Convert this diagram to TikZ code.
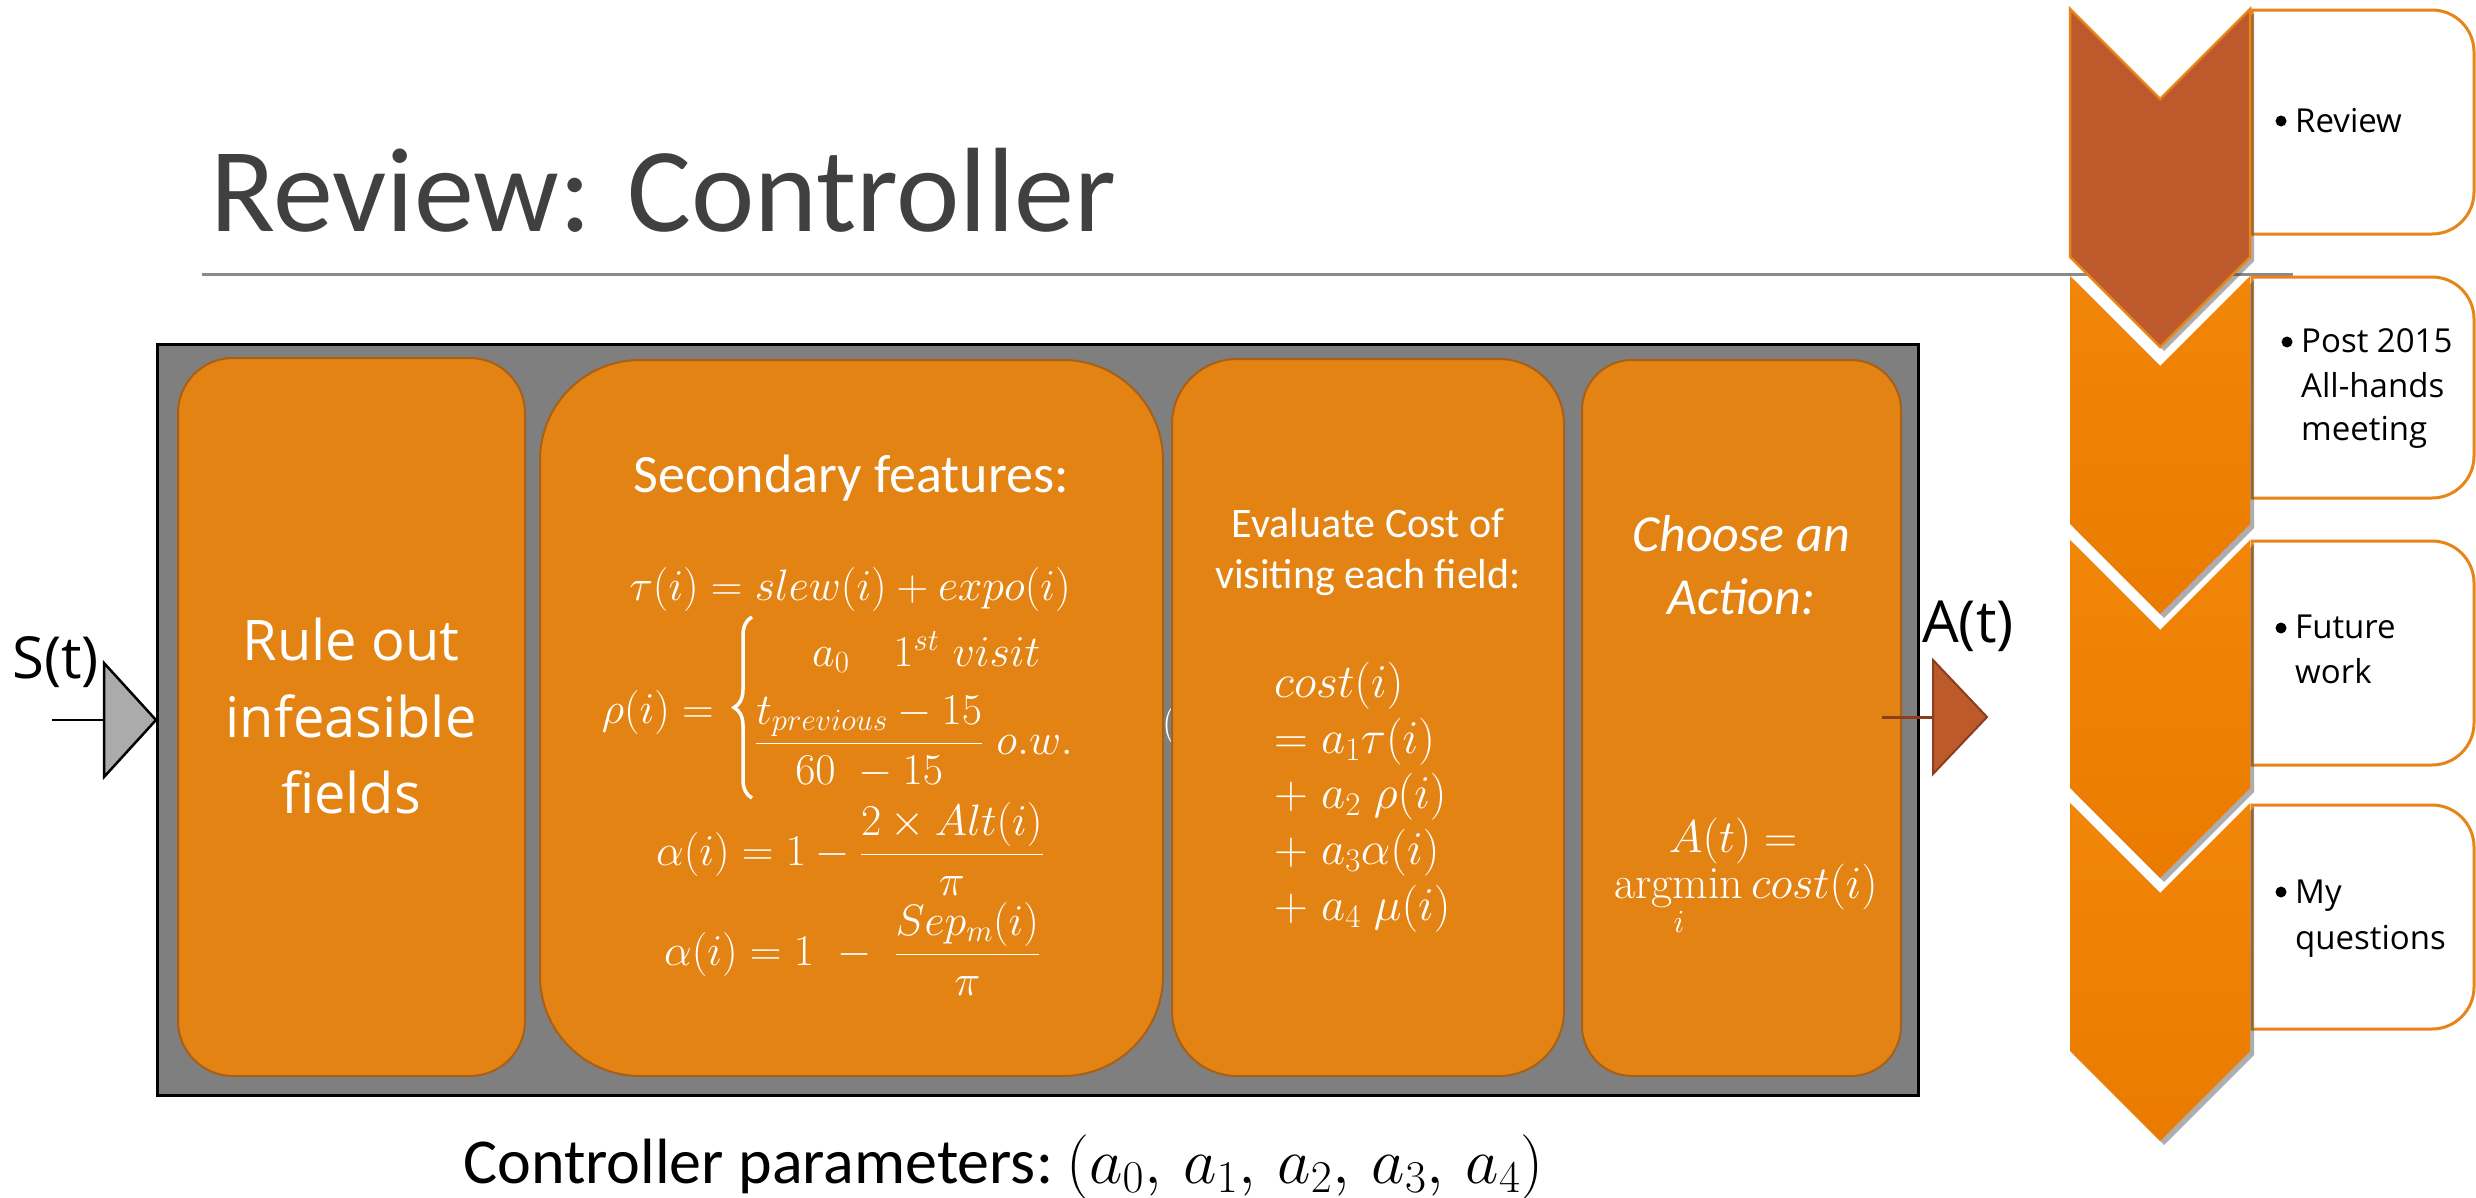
\RequirePackage{fix-cm}
\documentclass[tikz,border=0pt]{standalone}
\usepackage{amsmath}
\usepackage{fontspec}
\newfontfamily\carlito{Carlito}
\newfontfamily\osans{Open Sans}
\usetikzlibrary{shadows,decorations.pathreplacing}
\definecolor{obox}{HTML}{E38313}
\definecolor{oborder}{HTML}{A85F16}
\definecolor{gbox}{HTML}{7F7F7F}
\definecolor{rust}{HTML}{BC5A2C}
\definecolor{chevA}{HTML}{F28608}
\definecolor{chevB}{HTML}{EA7B00}
\definecolor{rborder}{HTML}{E8851A}
\definecolor{titlegray}{HTML}{404040}
\definecolor{linegray}{HTML}{8A8A8A}
\definecolor{trigray}{HTML}{ABABAB}
\definecolor{triout}{HTML}{8C3E1C}
\begin{document}
\begin{tikzpicture}[x=1pt,y=-1pt,
  obx/.style={draw=oborder, fill=obox, line width=2pt, inner sep=0pt, outer sep=0pt, anchor=north west},
  wtext/.style={text=white, inner sep=0pt, anchor=base},
  wtextl/.style={text=white, inner sep=0pt, anchor=base west},
  btext/.style={text=black, inner sep=0pt, anchor=base west, font=\osans\fontsize{33}{40}\selectfont},
  bdot/.style={circle, fill=black, inner sep=0pt, minimum size=11pt},
  chevshadow/.style={drop shadow={shadow xshift=4pt, shadow yshift=-4pt, opacity=0.4, fill=black!80}},
]
\useasboundingbox[fill=white] (0,0) rectangle (2476,1197);

% ---- title
\node[anchor=base west, inner sep=0pt, text=titlegray, font=\carlito\fontsize{120}{144}\selectfont] (title) at (210,231) {Review: Controller};
\coordinate (tl1) at (202,274);
\coordinate (tl2) at (2293,274);
\draw[linegray, line width=3pt] (tl1) -- (tl2);

% ---- agenda boxes
\foreach \t/\b in {10/234, 277/498, 541/765, 805/1029} {
  \filldraw[fill=white, draw=rborder, line width=3pt]
    (2252,\t) -- (2432,\t) arc[start angle=-90, end angle=0, radius=42]
    -- (2474,\b-42) arc[start angle=0, end angle=90, radius=42]
    -- (2252,\b) -- cycle;
}

% ---- chevrons
\foreach \y in {803,540,276} {
  \path[chevshadow, top color=chevA, bottom color=chevB]
    (2070,\y) -- (2160,\y+90) -- (2250,\y) -- (2250,\y+248) -- (2160,\y+338) -- (2070,\y+248) -- cycle;
}
\filldraw[chevshadow, fill=rust, draw=rborder, line width=2.5pt]
  (2070,9) -- (2160,99) -- (2250,9) -- (2250,257) -- (2160,347) -- (2070,257) -- cycle;

% ---- agenda texts
\node[bdot] (r1b) at (2281,121) {};
\node[btext] (r1) at (2295,132) {Review};
\node[bdot] (r2b) at (2287,342) {};
\node[btext] (r2a) at (2301,352) {Post 2015};
\node[btext] (r2c) at (2301,397) {All-hands};
\node[btext] (r2d) at (2301,440) {meeting};
\node[bdot] (r3b) at (2281,628) {};
\node[btext] (r3a) at (2295,638) {Future};
\node[btext] (r3c) at (2295,683) {work};
\node[bdot] (r4b) at (2281,892) {};
\node[btext] (r4a) at (2295,903) {My};
\node[btext] (r4c) at (2295,949) {questions};

% ---- controller box
\node[draw=black, fill=gbox, line width=2.5pt, inner sep=0pt, anchor=north west,
      minimum width=1761pt, minimum height=751pt] (ctrl) at (156,343) {};

\node[obx, rounded corners=55pt, minimum width=347pt, minimum height=718pt] (b1) at (178,358) {};
\node[obx, rounded corners=100pt, minimum width=623pt, minimum height=716pt] (b2) at (540,360) {};
\node[wtextl, font=\fontsize{40}{48}\selectfont] (frag) at (1162,735) {$($};
\node[obx, rounded corners=65pt, minimum width=392pt, minimum height=717pt] (b3) at (1172,359) {};
\node[obx, rounded corners=50pt, minimum width=319pt, minimum height=716pt] (b4) at (1582,360) {};

% box 1
\node[wtext, font=\osans\fontsize{56}{66}\selectfont] (b1l1) at (351,660) {Rule out};
\node[wtext, font=\osans\fontsize{56}{66}\selectfont] (b1l2) at (351,737) {infeasible};
\node[wtext, font=\osans\fontsize{56}{66}\selectfont] (b1l3) at (351,813) {fields};

% box 2
\node[wtext, font=\carlito\fontsize{54}{64}\selectfont] (b2t) at (851,492) {Secondary features:};
\begin{scope}[every node/.append style={font=\fontsize{44}{53}\selectfont}]
\node[wtext] (tau) at (850,600) {$\tau(i)=slew(i)+expo(i)$};
\node[text=white, inner sep=0pt, anchor=base east] (rho) at (714,723) {$\rho(i)=$};
\node[wtextl] (rho1) at (812,666) {$a_0\quad 1^{st}\ visit$};
\node[wtextl] (rho2) at (755,754) {$\dfrac{t_{previous}-15}{60\ -15}\ o.w.$};
\node[wtextl] (al1) at (656,865) {$\alpha(i)=1-\dfrac{2\times Alt(i)}{\pi}$};
\node[wtextl] (al2) at (664,965) {$\alpha(i)=1\ -\ \dfrac{Sep_m(i)}{\pi}$};
\end{scope}
\coordinate (brb) at (752,798);
\coordinate (brt) at (752,617);
\draw[white, line width=3.5pt, decorate, decoration={brace, amplitude=18pt}] (brb) -- (brt);

% box 3
\node[wtext, font=\carlito\fontsize{42}{50}\selectfont] (b3t1) at (1368,537) {Evaluate Cost of};
\node[wtext, font=\carlito\fontsize{42}{50}\selectfont] (b3t2) at (1368,588) {visiting each field:};
\begin{scope}[every node/.append style={font=\fontsize{47}{56}\selectfont}]
\node[wtextl] (c1) at (1274,697) {$cost(i)$};
\node[wtextl] (c2) at (1274,753) {$=a_1\tau(i)$};
\node[wtextl] (c3) at (1274,808) {$\mathord{+}\;a_2\;\rho(i)$};
\node[wtextl] (c4) at (1274,864) {$\mathord{+}\;a_3\alpha(i)$};
\node[wtextl] (c5) at (1274,920) {$\mathord{+}\;a_4\;\mu(i)$};
\end{scope}

% box 4
\node[wtext, font=\carlito\itshape\fontsize{52}{62}\selectfont] (b4t1) at (1741,551) {Choose an};
\node[wtext, font=\carlito\itshape\fontsize{52}{62}\selectfont] (b4t2) at (1741,614) {Action:};
\begin{scope}[every node/.append style={font=\fontsize{46}{55}\selectfont}]
\node[wtext] (at1) at (1733,852) {$A(t)=$};
\node[wtext] (at2) at (1746,898) {$\mathop{\mathrm{argmin}}\limits_i cost(i)$};
\end{scope}

% ---- input
\coordinate (sin) at (52,720);
\coordinate (tinL) at (104,720);
\draw[black, line width=2.5pt] (sin) -- (tinL);
\filldraw[fill=trigray, draw=black, line width=2.5pt, line join=miter] (104,663) -- (156,720) -- (104,777) -- cycle;
\node[anchor=base west, inner sep=0pt, font=\osans\fontsize{58}{68}\selectfont] (st) at (12,678) {S(t)};

% ---- output
\coordinate (aout) at (1882,717);
\coordinate (toutL) at (1933,717);
\draw[triout, line width=3pt] (aout) -- (toutL);
\filldraw[fill=rust, draw=triout, line width=2pt] (1933,660) -- (1987,717) -- (1933,774) -- cycle;
\node[anchor=base west, inner sep=0pt, font=\osans\fontsize{58}{70}\selectfont] (at) at (1922,642) {A(t)};

% ---- caption
\node[anchor=base west, inner sep=0pt, font=\carlito\fontsize{64}{76}\selectfont] (cap) at (463,1183) {Controller parameters:};
\node[anchor=base west, inner sep=0pt, font=\fontsize{65}{78}\selectfont] (capm) at (1066,1183) {$(a_0,\, a_1,\, a_2,\, a_3,\, a_4)$};
\end{tikzpicture}
\end{document}
